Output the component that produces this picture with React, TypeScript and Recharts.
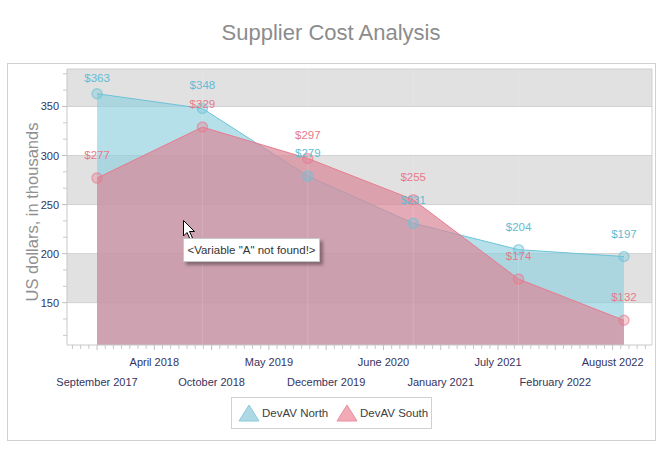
import React from 'react';
import { AreaChart, Area, XAxis, YAxis, ReferenceArea, ReferenceLine, LabelList } from 'recharts';

// yearly points, x in fractional years (September of each year)
const periods = [2017.67, 2018.67, 2019.67, 2020.67, 2021.67, 2022.67];
const devAvNorth = [363, 348, 279, 231, 204, 197];
const devAvSouth = [277, 329, 297, 255, 174, 132];

const xTickLabels = [
  'September 2017', 'April 2018', 'October 2018', 'May 2019', 'December 2019',
  'June 2020', 'January 2021', 'July 2021', 'February 2022', 'August 2022',
];
const yTickLabels = [150, 200, 250, 300, 350];
const stripes = [[106.8, 150], [200, 250], [300, 350]];
const grayStripes = [[150, 200], [250, 300], [350, 388.2]];

const X_DOMAIN: [number, number] = [2017.385, 2022.936];
const Y_DOMAIN: [number, number] = [106.8, 388.2];
const X_START = 2017.67;
const X_STEP = 0.5436;

const NORTH = '#6cc3d7';
const SOUTH = '#e87b8e';
const FONT = '"Liberation Sans", Arial, sans-serif';

const data = periods.map((x, i) => ({ x, north: devAvNorth[i], south: devAvSouth[i] }));

const majorX = xTickLabels.map((_, i) => X_START + i * X_STEP);
const minorX: number[] = [];
for (let i = -1; i < majorX.length; i++) {
  for (let k = 1; k < 7; k++) {
    const v = X_START + (i + k / 7) * X_STEP;
    if (v > X_DOMAIN[0] && v < X_DOMAIN[1]) minorX.push(v);
  }
}
const xTicks = [...majorX, ...minorX].sort((a, b) => a - b);

const minorY: number[] = [];
for (let v = 100; v < 400; v += 50) {
  [v + 50 / 3, v + 100 / 3].forEach((m) => {
    if (m > Y_DOMAIN[0] && m < Y_DOMAIN[1]) minorY.push(m);
  });
}
const yTicks = [...yTickLabels, ...minorY].sort((a, b) => a - b);

const XTick = (props: any) => {
  const { x, y, payload } = props;
  const idx = majorX.findIndex((v) => Math.abs(v - payload.value) < 1e-6);
  if (idx < 0) return <line x1={x} x2={x} y1={y} y2={y + 4} stroke="#c8c8c8" />;
  return (
    <g>
      <line x1={x} x2={x} y1={y} y2={y + 5} stroke="#c0c0c0" />
      <text x={x} y={y + (idx % 2 === 0 ? 41 : 21)} textAnchor="middle" fontSize={11} fontFamily={FONT} fill="#34345e">
        {xTickLabels[idx]}
      </text>
    </g>
  );
};

const YTick = (props: any) => {
  const { x, y, payload } = props;
  const major = yTickLabels.includes(payload.value);
  if (!major) return <line x1={x - 4} x2={x} y1={y} y2={y} stroke="#c8c8c8" />;
  return (
    <g>
      <line x1={x - 5} x2={x} y1={y} y2={y} stroke="#c0c0c0" />
      <text x={x - 8} y={y + 4} textAnchor="end" fontSize={11} fontFamily={FONT} fill="#34345e">
        {payload.value}
      </text>
    </g>
  );
};

const makeLabel = (color: string) => (props: any) => {
  const { x, y, value } = props;
  const cy = Math.max(y - 23, 78);
  return (
    <text x={x} y={cy + 4} textAnchor="middle" fontSize={11.5} fontFamily={FONT} fill={color}>
      ${value}
    </text>
  );
};

export default function App() {
  return (
    <div style={{ position: 'absolute', left: 0, top: 0, width: 663, height: 449, background: '#fff' }}>
      <svg width={663} height={449} style={{ position: 'absolute', left: 0, top: 0 }}>
        <rect x={7.5} y={63.5} width={648} height={377} fill="#fff" stroke="#d0d0d0" />
      </svg>
      <div style={{ position: 'absolute', left: 0, top: 0 }}>
        <AreaChart width={663} height={449} data={data} margin={{ top: 69, right: 11, bottom: 74, left: 7 }}>
          {grayStripes.map(([a, b]) => (
            <ReferenceArea key={'g' + a} y1={a} y2={b} fill="#e1e1e1" fillOpacity={1} stroke="none" zIndex={-200} ifOverflow="hidden" />
          ))}
          {stripes.map(([a, b]) => (
            <ReferenceArea key={'w' + a} y1={a} y2={b} fill="#ffffff" fillOpacity={1} stroke="none" zIndex={-200} ifOverflow="hidden" />
          ))}
          {yTickLabels.map((v) => (
            <ReferenceLine key={'h' + v} y={v} stroke="#d2d2d2" zIndex={-150} />
          ))}
          <ReferenceLine y={Y_DOMAIN[1]} stroke="#d0d0d0" zIndex={-150} />
          <ReferenceLine x={X_DOMAIN[1]} stroke="#d0d0d0" zIndex={-150} />
          <XAxis
            type="number"
            dataKey="x"
            domain={X_DOMAIN}
            allowDataOverflow
            ticks={xTicks}
            interval={0}
            tick={<XTick />}
            tickLine={false}
            tickSize={0}
            tickMargin={0}
            height={30}
            axisLine={{ stroke: '#c8c8c8' }}
          />
          <YAxis
            type="number"
            domain={Y_DOMAIN}
            allowDataOverflow
            ticks={yTicks}
            interval={0}
            tick={<YTick />}
            tickLine={false}
            tickSize={0}
            tickMargin={0}
            width={60}
            axisLine={{ stroke: '#c8c8c8' }}
          />
          <Area
            type="linear"
            dataKey="north"
            stroke={NORTH}
            strokeWidth={1}
            fill="#8ecfdf"
            fillOpacity={0.65}
            dot={{ r: 5, fill: NORTH, fillOpacity: 0.35, stroke: NORTH, strokeOpacity: 0.6, strokeWidth: 1.5 }}
            activeDot={false}
            isAnimationActive={false}
          >
            <LabelList dataKey="north" content={makeLabel('#62bcd4')} />
          </Area>
          <Area
            type="linear"
            dataKey="south"
            stroke={SOUTH}
            strokeWidth={1}
            fill="#d98898"
            fillOpacity={0.7}
            dot={{ r: 5, fill: SOUTH, fillOpacity: 0.35, stroke: SOUTH, strokeOpacity: 0.6, strokeWidth: 1.5 }}
            activeDot={false}
            isAnimationActive={false}
          >
            <LabelList dataKey="south" content={makeLabel('#e8798b')} />
          </Area>
          {periods.slice(1, 5).map((p) => (
            <ReferenceLine key={'v' + p} x={p} stroke="#ffffff" strokeOpacity={0.15} zIndex={150} />
          ))}
        </AreaChart>
      </div>
      <svg width={663} height={449} style={{ position: 'absolute', left: 0, top: 0, pointerEvents: 'none' }}>
        <text x={331} y={40} textAnchor="middle" fontSize={22} fontFamily={FONT} fill="#8c8c8c">
          Supplier Cost Analysis
        </text>
        <text x={38} y={212} transform="rotate(-90 38 212)" textAnchor="middle" fontSize={16.5} fontFamily={FONT} fill="#909090">
          US dollars, in thousands
        </text>
        <rect x={231.5} y={397.5} width={200} height={31} fill="#fff" stroke="#d0d0d0" />
        <polygon points="239,421 249,405 259,421" fill="#acd9e4" stroke="#8ccbdb" />
        <text x={262} y={417} fontSize={11.5} fontFamily={FONT} fill="#404040">DevAV North</text>
        <polygon points="337,421 347,405 357,421" fill="#f2aab6" stroke="#e9909f" />
        <text x={360} y={417} fontSize={11.5} fontFamily={FONT} fill="#404040">DevAV South</text>
        <path d="M183.5,220.5 L183.5,236 L187,232.5 L190,239 L192.5,238 L189.5,231.5 L194.5,231.5 Z" fill="#fff" stroke="#000" strokeWidth={1} />
      </svg>
      <div
        style={{
          position: 'absolute', left: 183, top: 238, width: 137, height: 24, boxSizing: 'border-box',
          background: '#fff', border: '1px solid #c8c8c8', boxShadow: '3px 3px 3px rgba(0,0,0,0.35)',
          fontFamily: FONT, fontSize: 11.5, color: '#333', lineHeight: '22px', textAlign: 'center', whiteSpace: 'nowrap',
        }}
      >
        {'<Variable "A" not found!>'}
      </div>
    </div>
  );
}
